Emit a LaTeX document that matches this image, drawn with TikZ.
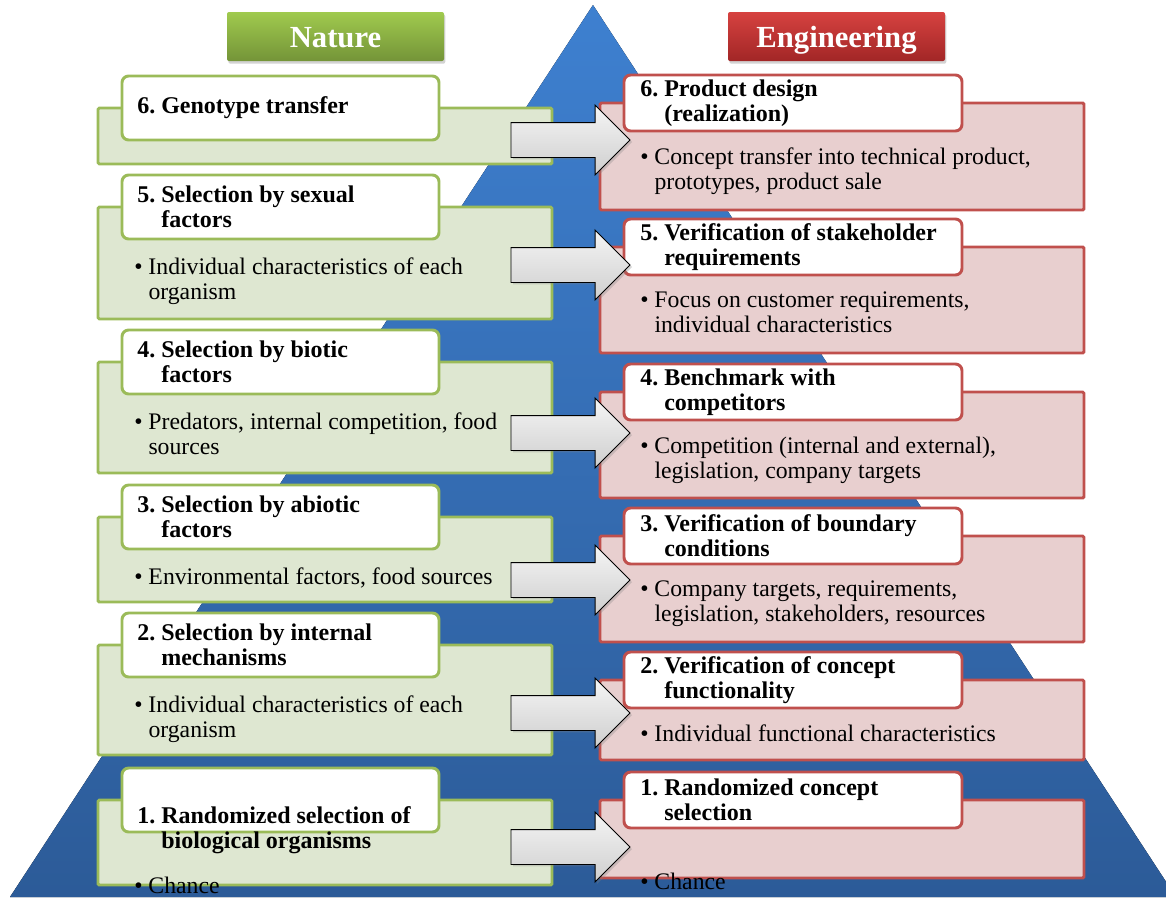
\documentclass[tikz,border=0pt]{standalone}
\usepackage{fontspec}
\setmainfont{Liberation Serif}
\usetikzlibrary{positioning,shapes.arrows,shadows}
\definecolor{natline}{RGB}{155,187,89}
\definecolor{natfill}{RGB}{222,231,209}
\definecolor{natlight}{RGB}{160,202,78}
\definecolor{natdark}{RGB}{116,148,56}
\definecolor{engline}{RGB}{192,80,77}
\definecolor{engfill}{RGB}{232,207,207}
\definecolor{englight}{RGB}{214,66,64}
\definecolor{engdark}{RGB}{162,38,38}
\definecolor{pyrtop}{RGB}{62,128,208}
\definecolor{pyrbot}{RGB}{44,91,152}
\frenchspacing
\tikzset{
  banner/.style  ={rectangle, rounded corners=1.5pt, minimum width=162.75pt, minimum height=36.75pt,
    text=white, font=\bfseries\fontsize{23}{24}\selectfont, text height=17pt, text depth=0pt,
    drop shadow={opacity=0.35, shadow xshift=1pt, shadow yshift=-2pt}},
  nat_body/.style={rectangle, anchor=north west, outer sep=0pt, minimum width=340.5pt,
    line width=2.2pt, draw=natline, fill=natfill, rounded corners=1pt},
  eng_body/.style={nat_body, minimum width=363pt, draw=engline, fill=engfill},
  nat_head/.style={rectangle, anchor=west, outer sep=0pt, minimum width=237.75pt, minimum height=48pt,
    line width=2.2pt, draw=natline, fill=white, rounded corners=5pt},
  eng_head/.style={nat_head, minimum width=253.5pt, minimum height=42pt, draw=engline},
  head_text/.style={inner sep=0pt, align=left, font=\bfseries\fontsize{18}{18.75}\selectfont},
  body_text/.style={inner sep=0pt, align=left, font=\fontsize{17.8}{18.75}\selectfont},
  stage_arrow/.style={single arrow, anchor=tip, draw=black, line width=0.7pt, top color=gray!8, bottom color=gray!38,
    minimum height=89.25pt, minimum width=51.75pt, inner xsep=0pt, inner ysep=12.75pt,
    single arrow head extend=13.1pt, single arrow tip angle=90, outer sep=0pt,
    drop shadow={opacity=0.3, shadow xshift=1.5pt, shadow yshift=-1.5pt}}
}
\begin{document}
\begin{tikzpicture}[x=0.75pt, y=-0.75pt]
\useasboundingbox (0,0) rectangle (1166,897);
\clip (0,0) rectangle (1166,897);
% pyramid behind everything
\fill[top color=pyrtop, bottom color=pyrbot] (593,5) -- (1176,897) -- (10,897) -- cycle;

\node[banner, top color=natlight, bottom color=natdark] (nature) at (335.5,36.5) {Nature};
\node[banner, top color=englight, bottom color=engdark] (engineering) at (836.5,36.5) {Engineering};

% nature side
\foreach \n/\btop/\bhgt/\toff/\hsh/\htxt/\btxt in {
  6/108/42/38.25/0/{6. Genotype transfer}/{},
  5/207/84/38.25/0/{5. Selection by sexual\\\phantom{5. }factors}/{\textbullet\ Individual characteristics of each\\\phantom{\textbullet\ }organism},
  4/362/83.25/38.25/0/{4. Selection by biotic\\\phantom{4. }factors}/{\textbullet\ Predators, internal competition, food\\\phantom{\textbullet\ }sources},
  3/517/63.75/38.25/0/{3. Selection by abiotic\\\phantom{3. }factors}/{\textbullet\ Environmental factors, food sources},
  2/645/82.5/38.25/0/{2. Selection by internal\\\phantom{2. }mechanisms}/{\textbullet\ Individual characteristics of each\\\phantom{\textbullet\ }organism},
  1/800/63.75/57.5/-22.5/{1. Randomized selection of\\\phantom{1. }biological organisms}/{\textbullet\ Chance}}{
  \node[nat_body, minimum height=\bhgt pt] (nb\n) at (98,\btop) {};
  \node[nat_head] (nh\n) at ([xshift=18pt]nb\n.north west) {};
  \node[head_text, right=11.25pt of nh\n.west, yshift=\hsh pt] (nt\n) {\htxt};
  \node[body_text, below right=\toff pt and 27pt of nb\n.north west] (nx\n) {\btxt};
}

% engineering side
\foreach \n/\btop/\bhgt/\toff/\htxt/\btxt in {
  6/103/80.25/33.75/{6. Product design\\\phantom{6. }(realization)}/{\textbullet\ Concept transfer into technical product,\\\phantom{\textbullet\ }prototypes, product sale},
  5/247/79.5/33.75/{5. Verification of stakeholder\\\phantom{5. }requirements}/{\textbullet\ Focus on customer requirements,\\\phantom{\textbullet\ }individual characteristics},
  4/392/79.5/33.75/{4. Benchmark with\\\phantom{4. }competitors}/{\textbullet\ Competition (internal and external),\\\phantom{\textbullet\ }legislation, company targets},
  3/536/79.5/33.75/{3. Verification of boundary\\\phantom{3. }conditions}/{\textbullet\ Company targets, requirements,\\\phantom{\textbullet\ }legislation, stakeholders, resources},
  2/680/60/33.75/{2. Verification of concept\\\phantom{2. }functionality}/{\textbullet\ Individual functional characteristics},
  1/800/58.5/54.75/{1. Randomized concept\\\phantom{1. }selection}/{\textbullet\ Chance}}{
  \node[eng_body, minimum height=\bhgt pt] (eb\n) at (600,\btop) {};
  \node[eng_head] (eh\n) at ([xshift=18pt]eb\n.north west) {};
  \node[head_text, right=12pt of eh\n.west] (et\n) {\htxt};
  \node[body_text, below right=\toff pt and 30pt of eb\n.north west] (ex\n) {\btxt};
}

% block arrows nature -> engineering
\foreach \n/\ya in {6/140,5/265,4/433,3/580,2/713,1/847}
  \node[stage_arrow] (ar\n) at (630,\ya) {};
\end{tikzpicture}
\end{document}
